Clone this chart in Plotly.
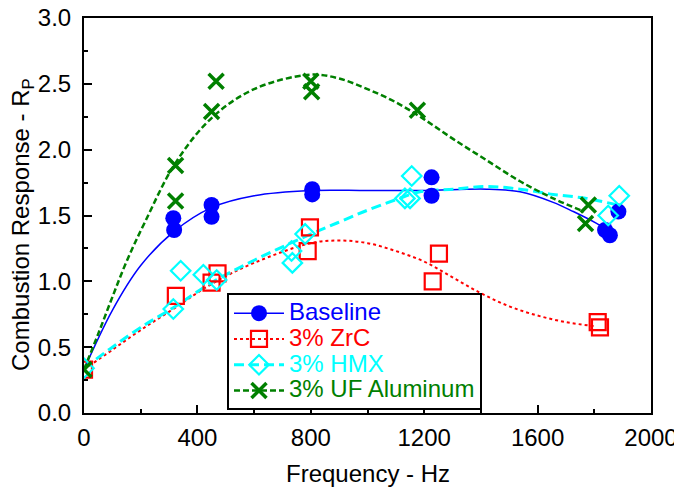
import plotly.graph_objects as go

# --- measured data points ---
base_x = [315, 318, 450, 450, 805, 805, 1226, 1226, 1838, 1855, 1885]
base_y = [1.48, 1.39, 1.58, 1.49, 1.70, 1.66, 1.79, 1.65, 1.39, 1.35, 1.53]

zrc_x = [0, 324, 450, 471, 789, 797, 1230, 1252, 1812, 1820]
zrc_y = [0.33, 0.89, 0.99, 1.06, 1.23, 1.41, 1.00, 1.21, 0.69, 0.65]

hmx_x = [0, 315, 341, 421, 468, 732, 735, 780, 1132, 1150, 1156, 1849, 1888]
hmx_y = [0.34, 0.79, 1.08, 1.05, 1.01, 1.23, 1.14, 1.36, 1.63, 1.63, 1.80, 1.50, 1.65]

ufal_x = [0, 323, 323, 450, 466, 800, 803, 1176, 1769, 1779]
ufal_y = [0.33, 1.88, 1.61, 2.29, 2.52, 2.52, 2.44, 2.30, 1.44, 1.58]

# --- fitted curves ---
base_fit_x = [0, 100, 200, 318, 450, 600, 800, 1000, 1200, 1420, 1538, 1655, 1726, 1808, 1867]
base_fit_y = [0.33, 0.78, 1.12, 1.38, 1.56, 1.65, 1.69, 1.69, 1.69, 1.70, 1.68, 1.60, 1.53, 1.44, 1.36]

zrc_fit_x = [0, 100, 200, 315, 450, 600, 800, 900, 1000, 1100, 1200, 1300, 1400, 1500, 1600, 1700, 1800]
zrc_fit_y = [0.33, 0.48, 0.63, 0.79, 0.98, 1.14, 1.29, 1.31, 1.29, 1.23, 1.15, 1.03, 0.91, 0.81, 0.74, 0.69, 0.66]

hmx_fit_x = [0, 100, 200, 315, 450, 600, 780, 900, 1000, 1100, 1185, 1303, 1420, 1538, 1655, 1773, 1880]
hmx_fit_y = [0.34, 0.50, 0.65, 0.80, 0.99, 1.16, 1.34, 1.45, 1.54, 1.62, 1.68, 1.70, 1.72, 1.70, 1.66, 1.63, 1.58]

ufal_fit_x = [0, 50, 100, 150, 215, 323, 450, 600, 800, 900, 1000, 1100, 1200, 1303, 1420, 1538, 1655, 1763]
ufal_fit_y = [0.33, 0.60, 0.88, 1.15, 1.45, 1.90, 2.24, 2.46, 2.57, 2.54, 2.46, 2.36, 2.23, 2.08, 1.92, 1.76, 1.63, 1.53]

names = ["Baseline", "3% ZrC", "3% HMX", "3% UF Aluminum"]
colors = ["#0000ff", "#ff0000", "#00ffff", "#008000"]

series = [
    dict(px=base_x, py=base_y, fx=base_fit_x, fy=base_fit_y,
         marker=dict(symbol="circle", size=16, color=colors[0]),
         line=dict(color=colors[0], width=1.5, dash="solid")),
    dict(px=zrc_x, py=zrc_y, fx=zrc_fit_x, fy=zrc_fit_y,
         marker=dict(symbol="square-open", size=16, color=colors[1], line=dict(width=2.2)),
         line=dict(color=colors[1], width=2, dash="dot")),
    dict(px=hmx_x, py=hmx_y, fx=hmx_fit_x, fy=hmx_fit_y,
         marker=dict(symbol="diamond-open", size=15, color=colors[2], line=dict(width=2.2)),
         line=dict(color=colors[2], width=3, dash="10px,5px")),
    dict(px=ufal_x, py=ufal_y, fx=ufal_fit_x, fy=ufal_fit_y,
         marker=dict(symbol="x-thin-open", size=15, color=colors[3], line=dict(width=3.5, color=colors[3])),
         line=dict(color=colors[3], width=2.5, dash="6px,3px")),
]

FONT = "Liberation Sans, Arial, Helvetica, sans-serif"

fig = go.Figure()
for name, color, s in zip(names, colors, series):
    fig.add_trace(go.Scatter(x=s["fx"], y=s["fy"], mode="lines", line=dict(**s["line"], shape="spline"),
                             showlegend=False, hoverinfo="skip"))
for name, color, s in zip(names, colors, series):
    fig.add_trace(go.Scatter(x=s["px"], y=s["py"], mode="markers", marker=s["marker"],
                             showlegend=False, name=name))
for name, color, s in zip(names, colors, series):
    fig.add_trace(go.Scatter(x=[None], y=[None], mode="lines+markers", marker=s["marker"], line=s["line"],
                             name=f"<span style='color:{color};font-size:24px'>{name}</span>",
                             showlegend=True))

axis_common = dict(
    showline=True, linecolor="black", linewidth=2, mirror=True,
    ticks="inside", ticklen=8, tickwidth=1.5, tickcolor="black",
    showgrid=False, zeroline=False, automargin=False, ticklabeloverflow="allow",
    tickfont=dict(family=FONT, size=24, color="black"),
)

fig.update_layout(
    width=674, height=481,
    margin=dict(l=76, r=31, t=10, b=76),
    paper_bgcolor="white", plot_bgcolor="white",
    font=dict(family=FONT, color="black"),
    xaxis=dict(range=[0, 2000], dtick=400, tick0=0, ticklabelstandoff=2,
               minor=dict(dtick=200, ticks="inside", ticklen=4, tickcolor="black"),
               **axis_common),
    yaxis=dict(range=[0, 3], dtick=0.5, tick0=0, tickformat=".1f", ticklabelstandoff=6,
               minor=dict(dtick=0.25, ticks="inside", ticklen=4, tickcolor="black"),
               **axis_common),
    legend=dict(x=0.2522, y=0.303, xanchor="left", yanchor="top",
                bgcolor="white", bordercolor="black", borderwidth=2,
                font=dict(size=17.5, family=FONT), itemwidth=50, tracegroupgap=0),
    annotations=[
        dict(text="Frequency - Hz", xref="paper", yref="paper", x=0.5, y=0,
             xanchor="center", yanchor="middle", yshift=-60, showarrow=False,
             font=dict(size=24, family=FONT, color="black")),
        dict(text="Combustion Response - R<sub>P</sub>", xref="paper", yref="paper", x=0, y=0.476,
             xanchor="center", yanchor="middle", xshift=-61, textangle=-90, showarrow=False,
             font=dict(size=24, family=FONT, color="black")),
    ],
)

fig.write_html("out.html")
